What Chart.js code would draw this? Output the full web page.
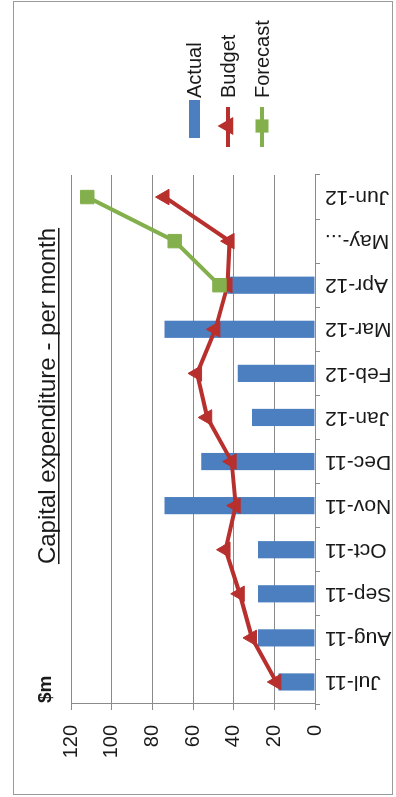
<!DOCTYPE html>
<html>
<head>
<meta charset="utf-8">
<title>Capital expenditure - per month</title>
<script src="https://cdn.jsdelivr.net/npm/chart.js@4.4.1/dist/chart.umd.min.js"></script>
<style>
  html, body { margin: 0; padding: 0; background: #fff; }
  body { width: 396px; height: 797px; position: relative; overflow: hidden; }
  #frame { position: absolute; left: 13px; top: 1px; width: 380px; height: 794px;
           border: 1px solid #9a9a9a; box-sizing: border-box; }
  /* chart is drawn landscape, then turned a quarter turn anticlockwise */
  #wrap { position: absolute; left: 0; top: 0; width: 797px; height: 396px;
          transform-origin: 0 0; transform: translate(0, 797px) rotate(-90deg); }
</style>
</head>
<body>
<div id="frame"></div>
<div id="wrap"><canvas id="capexChart" width="797" height="396"></canvas></div>
<script>
// data ($m)
const categories = ['Jul-11', 'Aug-11', 'Sep-11', 'Oct-11', 'Nov-11', 'Dec-11',
                    'Jan-12', 'Feb-12', 'Mar-12', 'Apr-12', 'May-...', 'Jun-12'];
const actual   = [18, 28, 28, 28, 74, 56, 31, 38, 74, 43, null, null];
const budget   = [19, 31, 37, 44, 39, 41, 53, 58, 49, 43, 42, 74];
const forecast = [null, null, null, null, null, null, null, null, null, 47, 69, 112];
const valueTicks = [0, 20, 40, 60, 80, 100, 120];

const FONT = '"Liberation Sans", Arial, sans-serif';
const BLUE = '#4c7fc0';
const RED = '#b8302e';
const GREEN = '#83b04c';
const GRID = '#8a8a8a';

Chart.defaults.font.family = FONT;
Chart.defaults.color = '#1a1a1a';

// title, unit label and legend drawn on the canvas
const decorations = {
    id: 'decorations',
    afterDraw(chart) {
        const ctx = chart.ctx;
        const area = chart.chartArea;
        ctx.save();

        // title, underlined
        const title = 'Capital expenditure - per month';
        ctx.font = '24px ' + FONT;
        ctx.fillStyle = '#1a1a1a';
        ctx.textAlign = 'center';
        ctx.textBaseline = 'alphabetic';
        const tx = 401, ty = 55;
        ctx.fillText(title, tx, ty);
        const w = ctx.measureText(title).width;
        ctx.fillRect(tx - w / 2, ty + 3, w, 1.5);

        // unit
        ctx.font = 'bold 19px ' + FONT;
        ctx.textAlign = 'left';
        ctx.fillText('$m', area.left + 1, 51);

        // legend
        const rows = [area.top + 123, area.top + 157, area.top + 191];
        const symStart = area.right + 28;
        const textStart = area.right + 77;
        chart.data.datasets.forEach(function(ds, i) {
            const y = rows[i];
            if (ds.type === 'bar') {
                ctx.fillStyle = ds.backgroundColor;
                ctx.fillRect(symStart + 9, y - 5, 38, 11);
            } else {
                ctx.strokeStyle = ds.borderColor;
                ctx.lineWidth = 4;
                ctx.beginPath();
                ctx.moveTo(symStart, y);
                ctx.lineTo(symStart + 40, y);
                ctx.stroke();
                Chart.helpers.drawPoint(ctx, {
                    pointStyle: ds.pointStyle,
                    radius: 6.5,
                    rotation: 0,
                    borderWidth: 1
                }, symStart + 21, y);
                ctx.fillStyle = ds.borderColor;
                ctx.fill();
            }
            ctx.font = '20px ' + FONT;
            ctx.fillStyle = '#1a1a1a';
            ctx.textAlign = 'left';
            ctx.textBaseline = 'middle';
            ctx.fillText(ds.label, textStart, y + 1);
        });
        ctx.restore();
    }
};

const ctx = document.getElementById('capexChart').getContext('2d');

new Chart(ctx, {
    data: {
        labels: categories,
        datasets: [{
            type: 'bar',
            label: 'Actual',
            data: actual,
            backgroundColor: BLUE,
            categoryPercentage: 1,
            barPercentage: 0.39,
            order: 2
        }, {
            type: 'line',
            label: 'Budget',
            data: budget,
            borderColor: RED,
            backgroundColor: RED,
            borderWidth: 4,
            pointStyle: 'triangle',
            pointRadius: 9,
            pointBorderWidth: 1,
            tension: 0,
            order: 1
        }, {
            type: 'line',
            label: 'Forecast',
            data: forecast,
            borderColor: GREEN,
            backgroundColor: GREEN,
            borderWidth: 4,
            pointStyle: 'rect',
            pointRadius: 9.5,
            pointBorderWidth: 1,
            tension: 0,
            order: 0
        }]
    },
    options: {
        responsive: false,
        animation: false,
        layout: { padding: { top: 71, right: 175, left: 0, bottom: 0 } },
        plugins: {
            legend: { display: false },
            title: { display: false },
            tooltip: { enabled: false }
        },
        scales: {
            x: {
                offset: true,
                grid: {
                    offset: true,
                    drawOnChartArea: false,
                    drawTicks: true,
                    tickLength: 5,
                    color: GRID
                },
                border: { display: true, color: GRID },
                ticks: {
                    minRotation: 90,
                    maxRotation: 90,
                    autoSkip: false,
                    padding: 5,
                    font: { size: 21 }
                },
                afterFit: function(scale) { scale.height = 81; }
            },
            y: {
                min: 0,
                max: 120,
                afterBuildTicks: function(scale) {
                    scale.ticks = valueTicks.map(v => ({ value: v }));
                },
                grid: { color: GRID, tickLength: 6 },
                border: { display: true, color: GRID },
                ticks: { padding: 15, font: { size: 20 } },
                afterFit: function(scale) { scale.width = 93; }
            }
        }
    },
    plugins: [decorations]
});
</script>
</body>
</html>
